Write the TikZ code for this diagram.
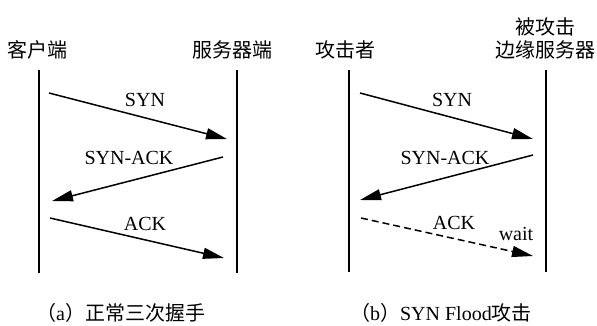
\documentclass[tikz,border=0pt]{standalone}
\usepackage{fontspec}
\setmainfont{Liberation Serif}
\newfontfamily\cjk{Noto Sans CJK SC}
\usetikzlibrary{arrows.meta}
\begin{document}
\begin{tikzpicture}[x=1pt,y=-1pt,
  lane/.style={line width=1.7pt},
  msg/.style={line width=1.5pt,-{Triangle[length=21pt,width=11pt]}},
  lost/.style={msg,dash pattern=on 7pt off 4pt},
  lbl/.style={font=\fontsize{20}{22}\selectfont, inner sep=0pt, anchor=base},
  head/.style={font=\fontsize{20}{24}\selectfont\cjk, inner sep=0pt},
  captext/.style={font=\fontsize{20}{24}\selectfont, inner sep=0pt},
]
\useasboundingbox (0,0) rectangle (597,325);

% ---------- (a) normal three-way handshake ----------
\node[head] (cli) at (38,50) {客户端};
\node[head] (srv) at (232,50) {服务器端};
\coordinate (cliT) at (39,70);  \coordinate (cliB) at (39,273);
\coordinate (srvT) at (237,70); \coordinate (srvB) at (237,273);
\draw[lane] (cliT) -- (cliB);
\draw[lane] (srvT) -- (srvB);

\coordinate (a1s) at (49,93);   \coordinate (a1e) at (227,139);
\coordinate (a2s) at (223,157); \coordinate (a2e) at (52,201);
\coordinate (a3s) at (50,218);  \coordinate (a3e) at (224,258);
\draw[msg] (a1s) -- (a1e);
\draw[msg] (a2s) -- (a2e);
\draw[msg] (a3s) -- (a3e);
\node[lbl] (asyn) at (145,106) {SYN};
\node[lbl] (asynack) at (129,164) {SYN-ACK};
\node[lbl] (aack) at (145,230) {ACK};

\node[captext, anchor=base west] (capa) at (36,320)
  {{\cjk （}a{\cjk ）正常三次握手}};

% ---------- (b) SYN flood ----------
\node[head] (atk) at (345,50) {攻击者};
\node[head] (vic1) at (545,27) {被攻击};
\node[head] (vic2) at (545,50) {边缘服务器};
\coordinate (atkT) at (349,70); \coordinate (atkB) at (349,272);
\coordinate (vicT) at (546,70); \coordinate (vicB) at (546,272);
\draw[lane] (atkT) -- (atkB);
\draw[lane] (vicT) -- (vicB);

\coordinate (b1s) at (360,93);  \coordinate (b1e) at (533,139);
\coordinate (b2s) at (533,155); \coordinate (b2e) at (360,200);
\coordinate (b3s) at (361,218); \coordinate (b3e) at (533,256);
\draw[msg] (b1s) -- (b1e);
\draw[msg] (b2s) -- (b2e);
\draw[lost] (b3s) -- (b3e);
\node[lbl] (bsyn) at (452,106) {SYN};
\node[lbl] (bsynack) at (445,164) {SYN-ACK};
\node[lbl] (back) at (454,229) {ACK};
\node[lbl] (bwait) at (516,240) {wait};

\node[captext, anchor=base east] (capb) at (532,320)
  {{\cjk （}b{\cjk ）}SYN Flood{\cjk 攻击}};
\end{tikzpicture}
\end{document}
